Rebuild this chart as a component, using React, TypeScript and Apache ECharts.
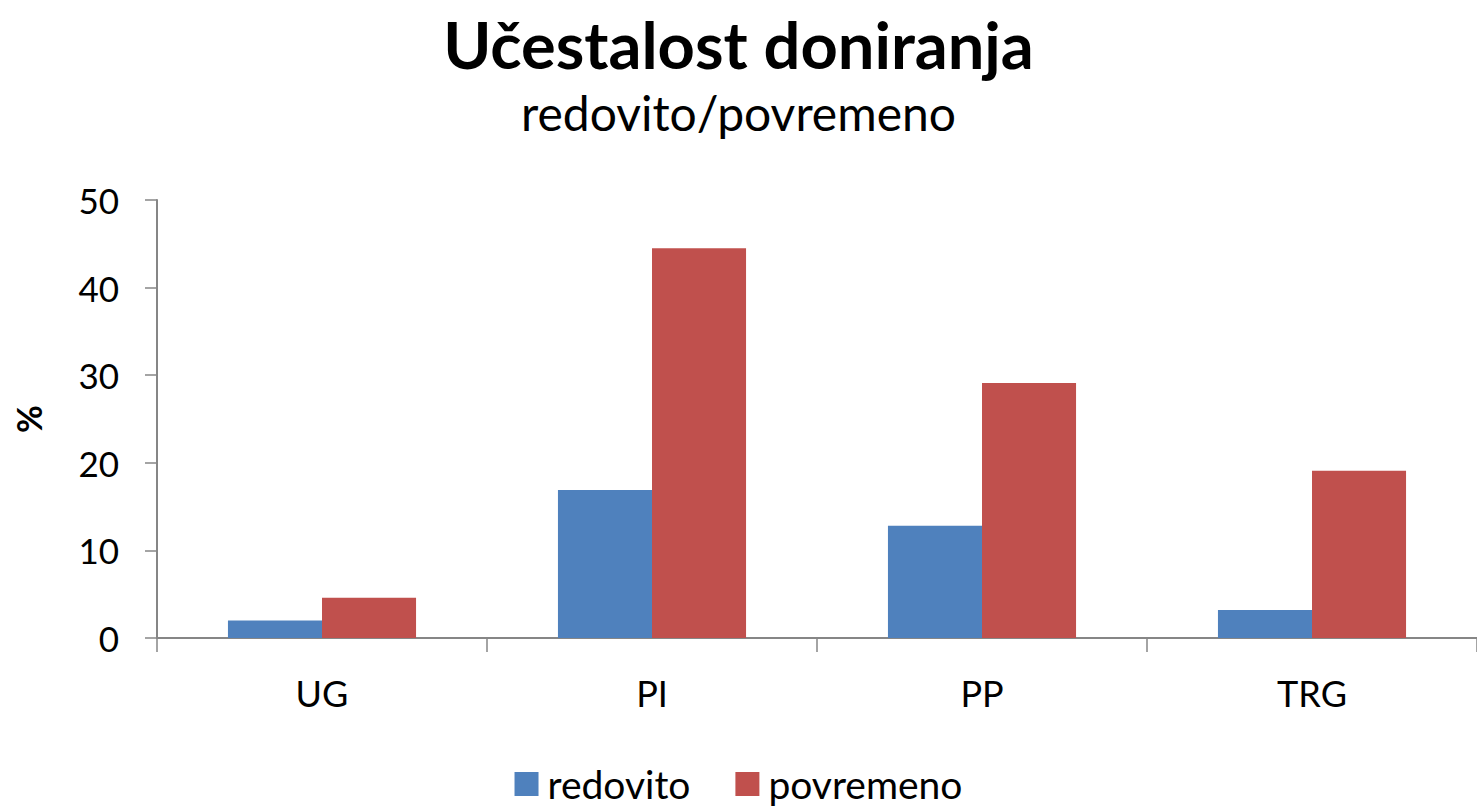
import React, { useEffect, useRef } from "react";
import * as echarts from "echarts";

const categories = ["UG", "PI", "PP", "TRG"];
const redovito = [2.0, 16.9, 12.8, 3.2];
const povremeno = [4.6, 44.5, 29.1, 19.1];
const seriesNames = ["redovito", "povremeno"];
const titleText = "Učestalost doniranja";
const subtitleText = "redovito/povremeno";
const yAxisName = "%";

const FONT = "Lato, 'Open Sans', sans-serif";

export default function App() {
  const ref = useRef<HTMLDivElement>(null);
  useEffect(() => {
    document.body.style.margin = "0";
    const chart = echarts.init(ref.current!, null, { renderer: "svg" });
    chart.setOption({
      animation: false,
      backgroundColor: "#ffffff",
      textStyle: { fontFamily: FONT },
      title: {
        text: titleText,
        subtext: subtitleText,
        left: "center",
        top: 6,
        itemGap: 12,
        textStyle: { fontFamily: FONT, fontSize: 65, fontWeight: "bold", color: "#000" },
        subtextStyle: { fontFamily: FONT, fontSize: 48, color: "#000" },
      },
      legend: {
        bottom: 2,
        padding: 0,
        left: "center",
        itemWidth: 24,
        itemHeight: 24,
        itemGap: 45,
        icon: "rect",
        textStyle: { fontFamily: FONT, fontSize: 39, lineHeight: 40, color: "#000", padding: [0, 0, 0, 4] },
        data: seriesNames,
      },
      grid: { left: 157, right: 0, top: 200, bottom: 168, containLabel: false },
      xAxis: {
        type: "category",
        data: categories,
        axisLine: { lineStyle: { color: "#868686", width: 2 } },
        axisTick: { show: true, length: 14, inside: false, lineStyle: { color: "#868686", width: 1.5 } },
        axisLabel: { fontFamily: FONT, fontSize: 36, color: "#000", margin: 37 },
      },
      yAxis: {
        type: "value",
        min: 0,
        max: 50,
        interval: 10,
        name: yAxisName,
        nameLocation: "middle",
        nameRotate: 90,
        nameGap: 112,
        nameTextStyle: { fontFamily: FONT, fontSize: 34, fontWeight: "bold", color: "#000" },
        axisLine: { show: true, lineStyle: { color: "#868686", width: 2 } },
        axisTick: { show: true, length: 12, lineStyle: { color: "#868686", width: 1.5 } },
        splitLine: { show: false },
        axisLabel: { fontFamily: FONT, fontSize: 35, color: "#000", margin: 38 },
      },
      series: [
        {
          name: seriesNames[0],
          type: "bar",
          data: redovito,
          itemStyle: { color: "#4F81BD" },
          barGap: "0%",
          barCategoryGap: "43%",
        },
        {
          name: seriesNames[1],
          type: "bar",
          data: povremeno,
          itemStyle: { color: "#C0504D" },
          barGap: "0%",
          barCategoryGap: "43%",
        },
      ],
    });
    return () => chart.dispose();
  }, []);
  return (
    <div
      ref={ref}
      style={{ position: "fixed", left: 0, top: 0, width: 1477, height: 806 }}
    />
  );
}
